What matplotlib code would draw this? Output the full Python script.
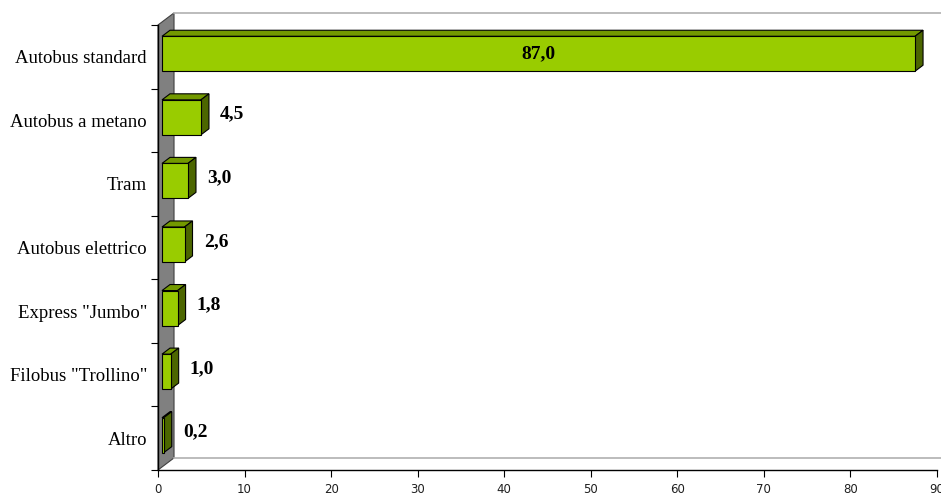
import matplotlib.pyplot as plt
from matplotlib.patches import Polygon

# Ripartizione percentuale dei veicoli per tipologia
categorie = ["Autobus standard", "Autobus a metano", "Tram", "Autobus elettrico",
             'Express "Jumbo"', 'Filobus "Trollino"', "Altro"]
valori = [87.0, 4.5, 3.0, 2.6, 1.8, 1.0, 0.2]
xticks = list(range(0, 100, 10))

front = "#99CC00"
top = "#739900"
side = "#4C6600"

fig = plt.figure(figsize=(9.41, 4.94), dpi=100)
ax = fig.add_axes([158 / 941, 24 / 494, 779 / 941, 445 / 494])

n = len(categorie)
ax.set_xlim(0, 90)
ax.set_ylim(0, n)

# profondita' dello sfondo 3D in unita' dati
DX, DY = 1.85, 0.19
h = 0.55

# parete laterale grigia
ax.add_patch(Polygon([(0, 0), (DX, DY), (DX, n + DY), (0, n)], closed=True,
                     facecolor="#808080", edgecolor="#404040", lw=0.8,
                     zorder=1, clip_on=False))
# pavimento e bordo superiore della parete di fondo
ax.plot([DX, 90 + DX], [DY, DY], color="#b0b0b0", lw=1.2, zorder=1, clip_on=False)
ax.plot([DX, 90 + DX], [n + DY, n + DY], color="#b0b0b0", lw=1.2, zorder=1, clip_on=False)

for i, (cat, v) in enumerate(zip(categorie, valori)):
    c = n - 0.5 - i
    x0 = 0.25 * DX
    y0 = c + 0.25 * DY - h / 2
    y1 = y0 + h
    dx, dy = 0.5 * DX, 0.5 * DY
    ax.add_patch(Polygon([(x0, y1), (x0 + v, y1), (x0 + v + dx, y1 + dy), (x0 + dx, y1 + dy)],
                         closed=True, facecolor=top, edgecolor="black", lw=0.8, zorder=3))
    ax.add_patch(Polygon([(x0 + v, y0), (x0 + v + dx, y0 + dy), (x0 + v + dx, y1 + dy), (x0 + v, y1)],
                         closed=True, facecolor=side, edgecolor="black", lw=0.8, zorder=3))
    ax.add_patch(Polygon([(x0, y0), (x0 + v, y0), (x0 + v, y1), (x0, y1)],
                         closed=True, facecolor=front, edgecolor="black", lw=0.8, zorder=4))
    testo = f"{v:.1f}".replace(".", ",")
    if v > 50:
        ax.text(x0 + v / 2, c + 0.25 * DY, testo, ha="center", va="center",
                fontsize=14, fontweight="bold", family="Liberation Serif", zorder=5)
    else:
        ax.text(x0 + v + dx + 1.3, c + 0.25 * DY + 0.05, testo, ha="left", va="center",
                fontsize=14, fontweight="bold", family="Liberation Serif", zorder=5)

# assi
for s in ["top", "right"]:
    ax.spines[s].set_visible(False)
for s in ["left", "bottom"]:
    ax.spines[s].set_color("black")
    ax.spines[s].set_linewidth(1)
    ax.spines[s].set_zorder(6)

ax.set_yticks(range(0, n + 1))
ax.set_yticklabels([])
ax.set_yticks([n - 0.5 - i for i in range(n)], minor=True)
ax.set_yticklabels(categorie, minor=True, family="Liberation Serif", fontsize=13.5)
ax.tick_params(axis="y", which="major", length=5, direction="out")
ax.tick_params(axis="y", which="minor", length=0, pad=8)

ax.set_xticks(xticks)
ax.set_xticklabels([str(t) for t in xticks], family="DejaVu Sans", fontsize=8.5,
                   color="#202020")
ax.tick_params(axis="x", length=5, direction="out", pad=4)

fig.savefig("out.png", dpi=100)
